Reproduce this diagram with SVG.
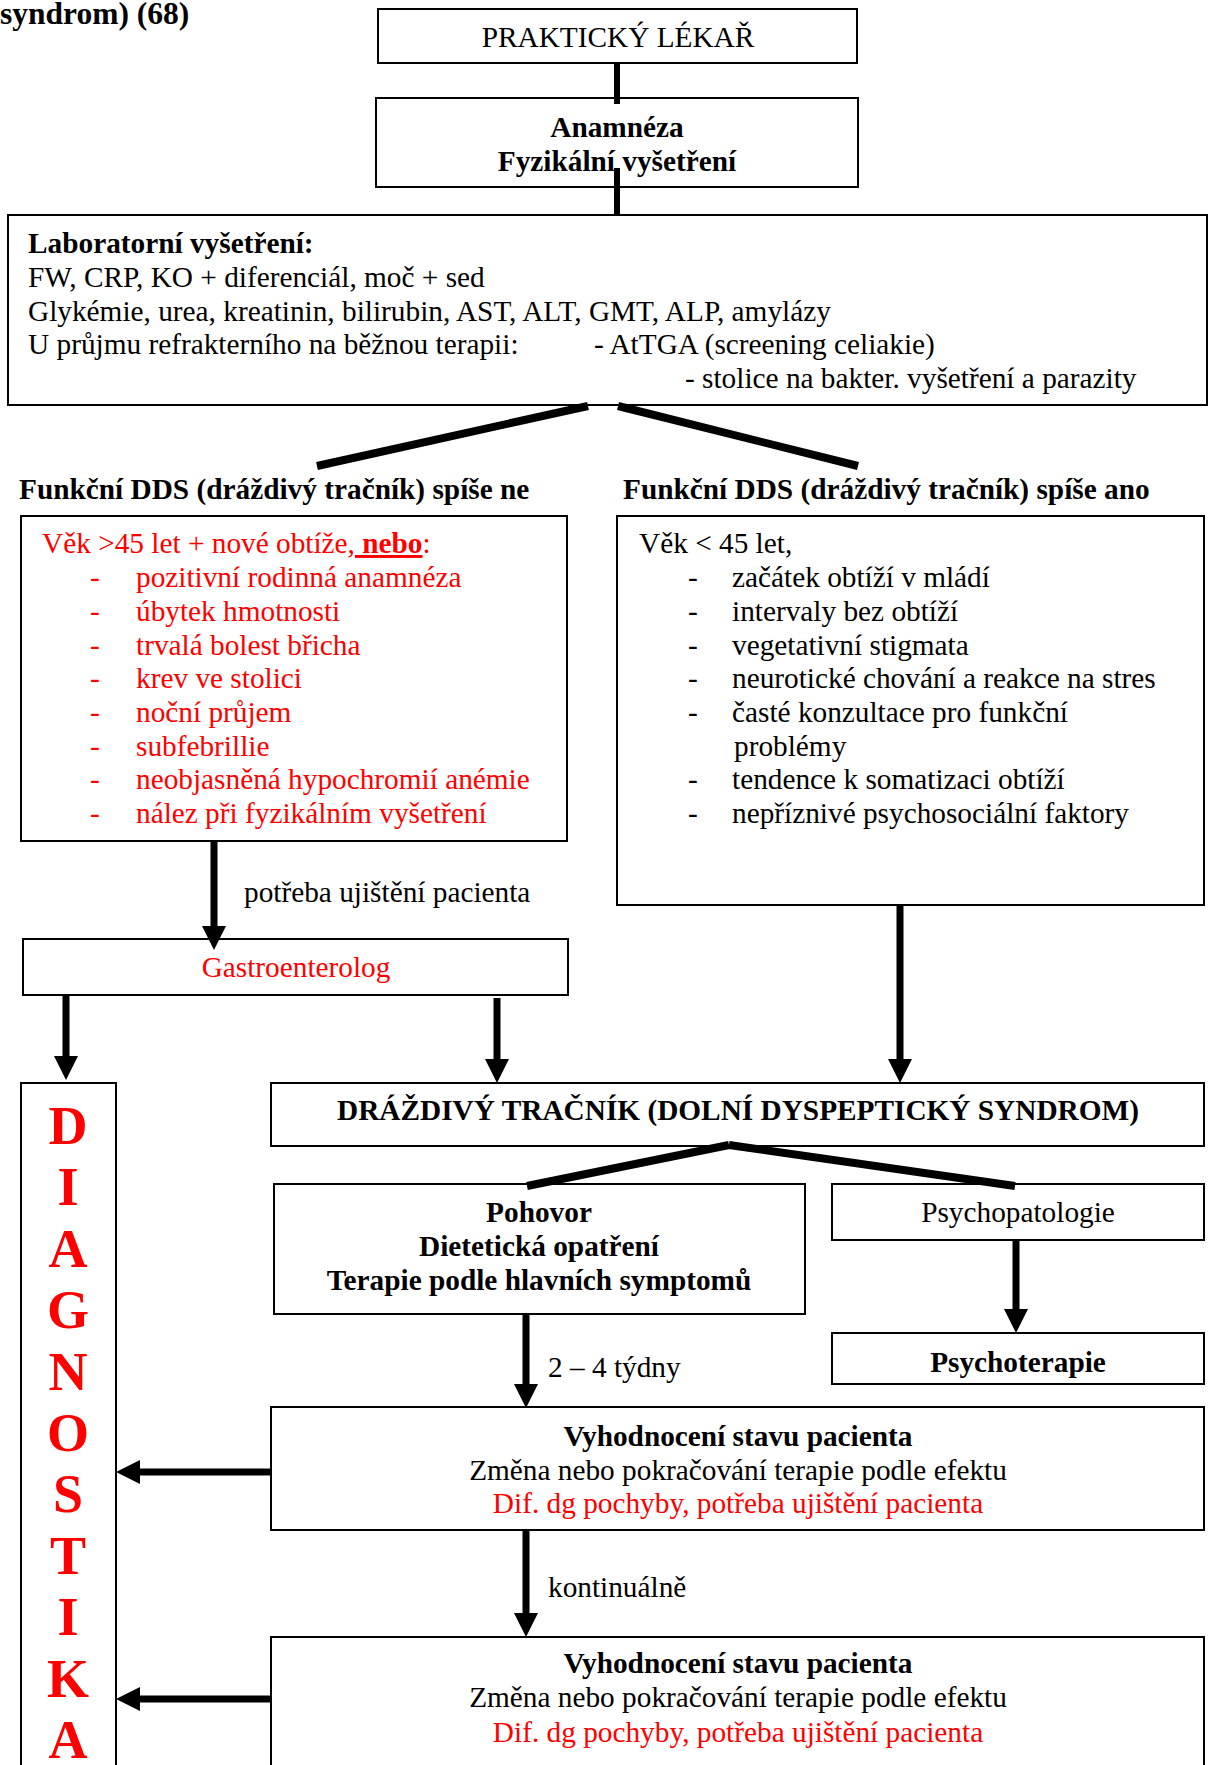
<svg xmlns="http://www.w3.org/2000/svg" width="1213" height="1765" viewBox="0 0 1213 1765">
<style>
.box{fill:#fff;stroke:#000;stroke-width:2}
.t{font-family:"Liberation Serif","Times New Roman",serif;font-size:29.3px;fill:#000}
.b{font-weight:bold}
.r{fill:#ff0000}
.c{text-anchor:middle}
.ln{stroke:#000;fill:none;stroke-width:6}
.th{stroke-width:8}
.ar{stroke:#000;fill:none;stroke-width:7;marker-end:url(#ah)}
.dg{font-family:"Liberation Serif","Times New Roman",serif;font-size:54px;font-weight:bold;fill:#ff0000;text-anchor:middle}
</style>
<defs>
<marker id="ah" markerUnits="userSpaceOnUse" markerWidth="24" markerHeight="24" refX="12" refY="12" orient="auto" viewBox="0 0 24 24">
<path d="M0,0 L24,12 L0,24 Z" fill="#000"/>
</marker>
</defs>
<rect width="1213" height="1765" fill="#fff"/>
<text class="t b" x="0" y="24" style="font-size:31.5px">syndrom) (68)</text>

<g id="n-praktik">
<rect class="box" x="378" y="9" width="479" height="54"/>
<text class="t c" x="618" y="47">PRAKTICKÝ LÉKAŘ</text>
</g>
<g id="n-anamneza">
<rect class="box" x="376" y="98" width="482" height="89"/>
<text class="t b c" x="617" y="137">Anamnéza</text>
<text class="t b c" x="617" y="171">Fyzikální vyšetření</text>
</g>
<g id="n-lab">
<rect class="box" x="8" y="215" width="1199" height="190"/>
<text class="t b" x="28" y="253">Laboratorní vyšetření:</text>
<text class="t" x="28" y="287">FW, CRP, KO + diferenciál, moč + sed</text>
<text class="t" x="28" y="321">Glykémie, urea, kreatinin, bilirubin, AST, ALT, GMT, ALP, amylázy</text>
<text class="t" x="28" y="354">U průjmu refrakterního na běžnou terapii:</text>
<text class="t" x="594" y="354">- AtTGA (screening celiakie)</text>
<text class="t" x="685" y="388">- stolice na bakter. vyšetření a parazity</text>
</g>
<g id="n-head-ne">
<text class="t b" x="19" y="499">Funkční DDS (dráždivý tračník) spíše ne</text>
</g>
<g id="n-head-ano">
<text class="t b" x="623" y="499">Funkční DDS (dráždivý tračník) spíše ano</text>
</g>
<g id="n-red">
<rect class="box" x="21" y="516" width="546" height="325"/>
<text class="t r" x="42" y="553"><tspan>Věk &gt;45 let + nové obtíže,</tspan><tspan class="b" text-decoration="underline"> nebo</tspan><tspan>:</tspan></text>
<g class="t r">
<text x="90" y="587">-</text><text x="136" y="587">pozitivní rodinná anamnéza</text>
<text x="90" y="621">-</text><text x="136" y="621">úbytek hmotnosti</text>
<text x="90" y="655">-</text><text x="136" y="655">trvalá bolest břicha</text>
<text x="90" y="688">-</text><text x="136" y="688">krev ve stolici</text>
<text x="90" y="722">-</text><text x="136" y="722">noční průjem</text>
<text x="90" y="756">-</text><text x="136" y="756">subfebrillie</text>
<text x="90" y="789">-</text><text x="136" y="789">neobjasněná hypochromií anémie</text>
<text x="90" y="823">-</text><text x="136" y="823">nález při fyzikálním vyšetření</text>
</g>
</g>
<g id="n-green">
<rect class="box" x="617" y="516" width="587" height="389"/>
<g class="t">
<text x="639" y="553">Věk &lt; 45 let,</text>
<text x="688" y="587">-</text><text x="732" y="587">začátek obtíží v mládí</text>
<text x="688" y="621">-</text><text x="732" y="621">intervaly bez obtíží</text>
<text x="688" y="655">-</text><text x="732" y="655">vegetativní stigmata</text>
<text x="688" y="688">-</text><text x="732" y="688">neurotické chování a reakce na stres</text>
<text x="688" y="722">-</text><text x="732" y="722">časté konzultace pro funkční</text>
<text x="734" y="756">problémy</text>
<text x="688" y="789">-</text><text x="732" y="789">tendence k somatizaci obtíží</text>
<text x="688" y="823">-</text><text x="732" y="823">nepříznivé psychosociální faktory</text>
</g>
</g>
<g id="n-gastro">
<rect class="box" x="23" y="939" width="545" height="56"/>
<text class="t r c" x="296" y="977">Gastroenterolog</text>
</g>
<g id="n-diag">
<rect class="box" x="21" y="1083" width="95" height="700"/>
<text class="dg" x="68" y="1144">D</text>
<text class="dg" x="68" y="1205">I</text>
<text class="dg" x="68" y="1267">A</text>
<text class="dg" x="68" y="1328">G</text>
<text class="dg" x="68" y="1390">N</text>
<text class="dg" x="68" y="1451">O</text>
<text class="dg" x="68" y="1512">S</text>
<text class="dg" x="68" y="1574">T</text>
<text class="dg" x="68" y="1635">I</text>
<text class="dg" x="68" y="1697">K</text>
<text class="dg" x="68" y="1758">A</text>
</g>
<g id="n-ibs">
<rect class="box" x="271" y="1083" width="933" height="63"/>
<text class="t b c" x="738" y="1120">DRÁŽDIVÝ TRAČNÍK (DOLNÍ DYSPEPTICKÝ SYNDROM)</text>
</g>
<g id="n-pohovor">
<rect class="box" x="274" y="1184" width="531" height="130"/>
<text class="t b c" x="539" y="1222">Pohovor</text>
<text class="t b c" x="539" y="1256">Dietetická opatření</text>
<text class="t b c" x="539" y="1290">Terapie podle hlavních symptomů</text>
</g>
<g id="n-psychopat">
<rect class="box" x="832" y="1184" width="372" height="56"/>
<text class="t c" x="1018" y="1222">Psychopatologie</text>
</g>
<g id="n-psychoter">
<rect class="box" x="832" y="1333" width="372" height="51"/>
<text class="t b c" x="1018" y="1372">Psychoterapie</text>
</g>
<g id="n-vyhod1">
<rect class="box" x="271" y="1407" width="933" height="123"/>
<text class="t b c" x="738" y="1446">Vyhodnocení stavu pacienta</text>
<text class="t c" x="738" y="1480">Změna nebo pokračování terapie podle efektu</text>
<text class="t r c" x="738" y="1513">Dif. dg pochyby, potřeba ujištění pacienta</text>
</g>
<g id="n-vyhod2">
<rect class="box" x="271" y="1637" width="933" height="150"/>
<text class="t b c" x="738" y="1673">Vyhodnocení stavu pacienta</text>
<text class="t c" x="738" y="1707">Změna nebo pokračování terapie podle efektu</text>
<text class="t r c" x="738" y="1742">Dif. dg pochyby, potřeba ujištění pacienta</text>
</g>

<g id="connectors">
<line class="ln" x1="617" y1="63" x2="617" y2="104"/>
<line class="ln" x1="617" y1="168" x2="617" y2="216"/>
<line class="ln th" x1="588" y1="406" x2="317" y2="466"/>
<line class="ln th" x1="618" y1="406" x2="858" y2="466"/>
<line class="ar" x1="214" y1="841" x2="214" y2="938"/>
<line class="ar" x1="66" y1="995" x2="66" y2="1068"/>
<line class="ar" x1="497" y1="998" x2="497" y2="1071"/>
<line class="ar" x1="900" y1="905" x2="900" y2="1071"/>
<line class="ln th" x1="729" y1="1145" x2="527" y2="1186"/>
<line class="ln th" x1="729" y1="1145" x2="1015" y2="1186"/>
<line class="ar" x1="1016" y1="1241" x2="1016" y2="1321"/>
<line class="ar" x1="526" y1="1315" x2="526" y2="1396"/>
<line class="ar" x1="271" y1="1472" x2="128" y2="1472"/>
<line class="ar" x1="526" y1="1530" x2="526" y2="1625"/>
<line class="ar" x1="271" y1="1699" x2="128" y2="1699"/>
<text class="t" x="244" y="902">potřeba ujištění pacienta</text>
<text class="t" x="548" y="1377">2 – 4 týdny</text>
<text class="t" x="548" y="1597">kontinuálně</text>
</g>
</svg>
